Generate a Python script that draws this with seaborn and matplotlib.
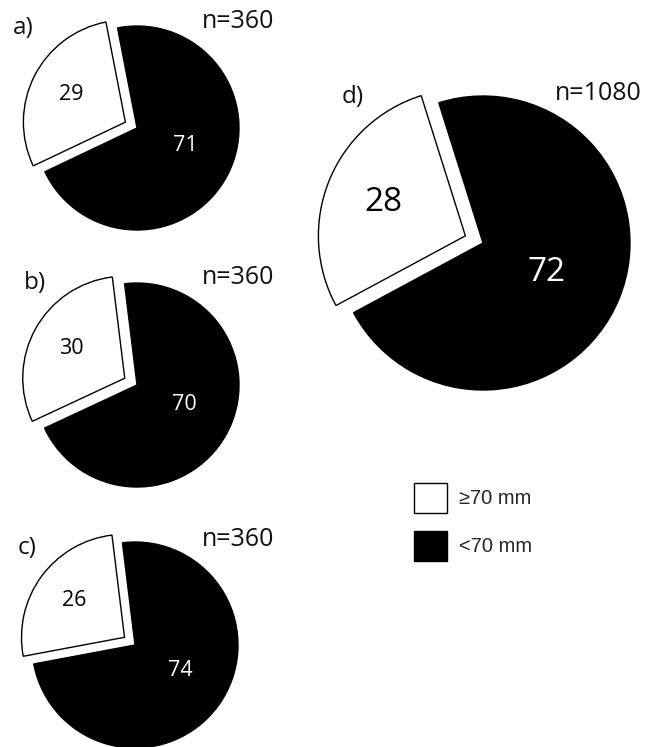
import matplotlib
matplotlib.use("Agg")
import matplotlib.pyplot as plt
import numpy as np
import seaborn as sns

# Share of records (%) per class, for each panel
panel_labels = ["a)", "b)", "c)", "d)"]
sample_sizes = [360, 360, 360, 1080]
share_ge70 = [29, 30, 26, 28]
share_lt70 = [71, 70, 74, 72]
legend_labels = ["≥70 mm", "<70 mm"]

W, H = 649, 747
# Layout in pixel units (x from left, y from top)
centers = [(137, 128), (137, 385), (135, 645), (483, 243)]
radii = [102, 102, 103, 147]
start_angles = [101, 97, 97, 107.5]
explode_px = [13, 14, 13, 19]
pct_sizes = [15.5, 15.5, 15.5, 24]
dark_label_turn = [7, 7, 7, -3]      # degrees added to the dark slice bisector
dark_label_dist = [0.5, 0.5, 0.5, 0.48]
tag_pos = [(23, 28), (35, 283), (27, 548), (353, 97)]
n_pos = [(238, 22), (238, 278), (238, 540), (598, 93)]

sns.set_theme(style="white")
plt.rcParams["font.family"] = ["Open Sans", "DejaVu Sans"]

fig = plt.figure(figsize=(W / 100, H / 100), dpi=100)
ax = fig.add_axes([0, 0, 1, 1])

palette = ["white", "black"]
last_wedges = None
for i in range(len(panel_labels)):
    cx, cy = centers[i]
    r = radii[i]
    wedges, texts, autotexts = ax.pie(
        [share_ge70[i], share_lt70[i]],
        center=(cx, H - cy),
        radius=r,
        startangle=start_angles[i],
        counterclock=True,
        colors=palette,
        explode=[explode_px[i], 0],
        autopct=lambda p: f"{p:.0f}",
        pctdistance=0.6,
        wedgeprops=dict(edgecolor="black", linewidth=1.0),
        textprops=dict(fontsize=pct_sizes[i], color="black"),
        frame=True,
    )
    # place the label of the dark slice a bit inward and colour it white
    w = wedges[1]
    th = np.deg2rad((w.theta1 + w.theta2) / 2 + dark_label_turn[i])
    d = dark_label_dist[i] * r
    autotexts[1].set_position((cx + d * np.cos(th), H - cy + d * np.sin(th)))
    autotexts[1].set_color("white")

    tx, ty = tag_pos[i]
    ax.text(tx, H - ty, panel_labels[i], ha="center", va="center", fontsize=17.5, color="#111111")
    nx, ny = n_pos[i]
    ax.text(nx, H - ny, f"n={sample_sizes[i]}", ha="center", va="center", fontsize=18, color="#111111")
    last_wedges = wedges

ax.set_xlim(0, W)
ax.set_ylim(0, H)
ax.set_aspect("equal")
ax.axis("off")

fig.legend(
    handles=last_wedges,
    labels=legend_labels,
    loc="upper left",
    bbox_to_anchor=(414, H - 483),
    bbox_transform=ax.transData,
    frameon=False,
    borderpad=0,
    borderaxespad=0,
    handlelength=1.64,
    handleheight=1.9,
    handletextpad=0.6,
    labelspacing=0.9,
    prop=dict(family="Liberation Sans", size=14.5),
)

fig.savefig("out.png", dpi=100, facecolor="white")
